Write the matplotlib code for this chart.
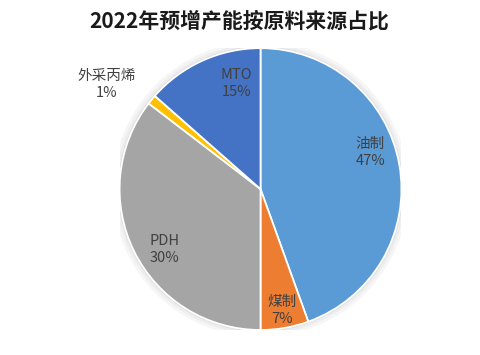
import matplotlib.pyplot as plt
from matplotlib.patches import Circle

plt.rcParams['font.family'] = ['Noto Sans CJK SC', 'DejaVu Sans']

labels = ['油制', '煤制', 'PDH', '外采丙烯', 'MTO']
shares = [47, 7, 30, 1, 15]                  # printed percentages
sizes = [44.5, 5.5, 35.4, 1.1, 13.5]         # slice sizes as drawn in the picture
colors = ['#5B9BD5', '#ED7D31', '#A5A5A5', '#FFC000', '#4472C4']
label_xy = [(0.78, 0.26), (0.15, -0.86), (-0.68, -0.43), (-1.09, 0.74), (-0.17, 0.75)]

fig = plt.figure(figsize=(4.8, 3.55), dpi=100)
ax = fig.add_axes([0.249, 0.0704, 0.5875, 0.794])

# soft halo like the original's shadow
for r, c in [(1.05, '#f6f6f6'), (1.03, '#eeeeee'), (1.012, '#dddddd')]:
    ax.add_patch(Circle((0, 0), r, color=c, zorder=0, lw=0))

wedges, _ = ax.pie(sizes, colors=colors, startangle=90, counterclock=False,
                   wedgeprops=dict(edgecolor='white', linewidth=1.3))

for lab, val, (x, y) in zip(labels, shares, label_xy):
    ax.text(x, y, f'{lab}\n{val}%', ha='center', va='center',
            fontsize=10.5, color='#404040', linespacing=1.25, zorder=5)

ax.set_xlim(-1, 1)
ax.set_ylim(-1, 1)
ax.set_aspect('equal')
ax.axis('off')

fig.text(0.498, 0.942, '2022年预增产能按原料来源占比', ha='center', va='center',
         fontsize=15, fontweight='bold', color='#1a1a1a')

fig.savefig('out.png', dpi=100)
